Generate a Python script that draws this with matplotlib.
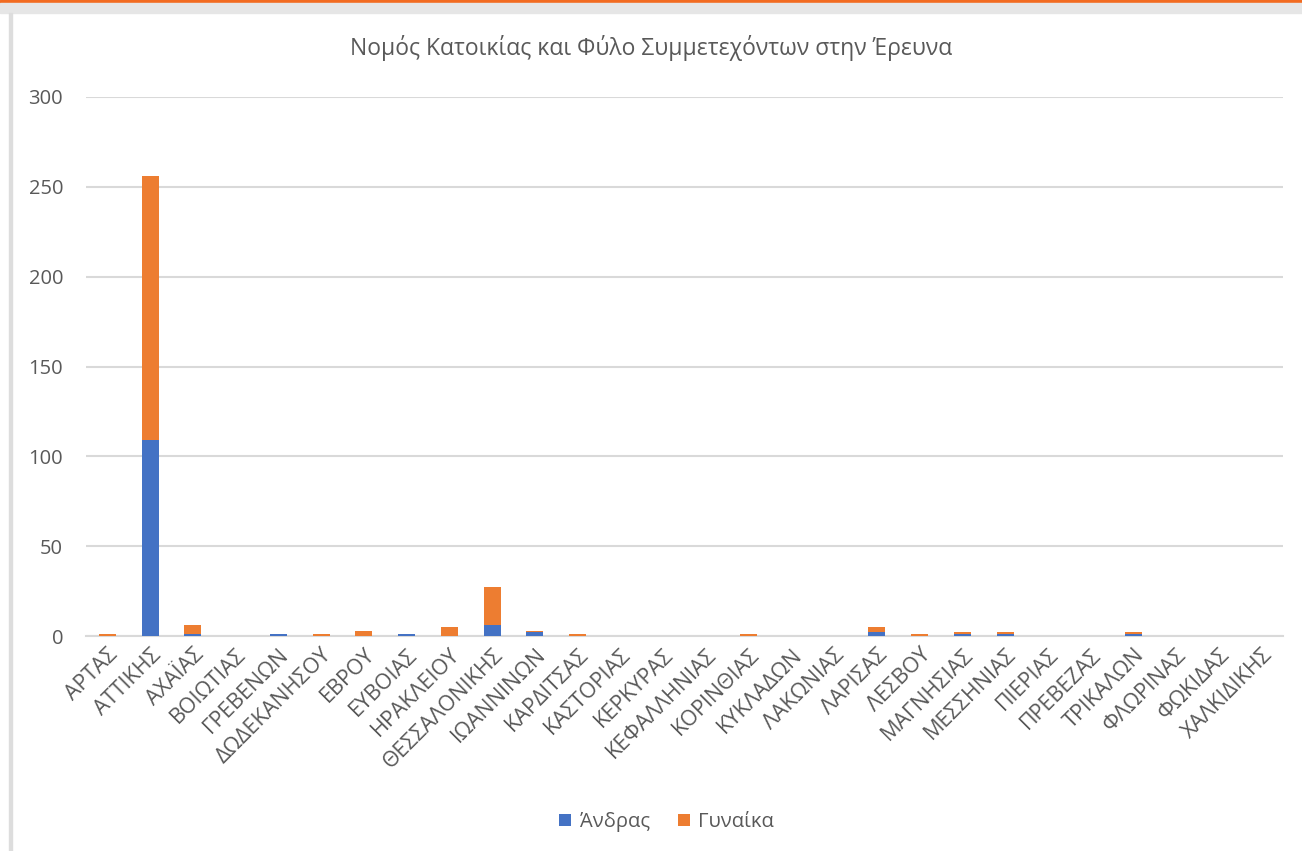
import matplotlib
matplotlib.use("Agg")
import matplotlib.pyplot as plt
import matplotlib.patches as patches
import numpy as np

plt.rcParams['font.family'] = ['Open Sans', 'DejaVu Sans']

nomoi = ['ΑΡΤΑΣ', 'ΑΤΤΙΚΗΣ', 'ΑΧΑΪΑΣ', 'ΒΟΙΩΤΙΑΣ', 'ΓΡΕΒΕΝΩΝ', 'ΔΩΔΕΚΑΝΗΣΟΥ', 'ΕΒΡΟΥ',
         'ΕΥΒΟΙΑΣ', 'ΗΡΑΚΛΕΙΟΥ', 'ΘΕΣΣΑΛΟΝΙΚΗΣ', 'ΙΩΑΝΝΙΝΩΝ', 'ΚΑΡΔΙΤΣΑΣ', 'ΚΑΣΤΟΡΙΑΣ',
         'ΚΕΡΚΥΡΑΣ', 'ΚΕΦΑΛΛΗΝΙΑΣ', 'ΚΟΡΙΝΘΙΑΣ', 'ΚΥΚΛΑΔΩΝ', 'ΛΑΚΩΝΙΑΣ', 'ΛΑΡΙΣΑΣ', 'ΛΕΣΒΟΥ',
         'ΜΑΓΝΗΣΙΑΣ', 'ΜΕΣΣΗΝΙΑΣ', 'ΠΙΕΡΙΑΣ', 'ΠΡΕΒΕΖΑΣ', 'ΤΡΙΚΑΛΩΝ', 'ΦΛΩΡΙΝΑΣ', 'ΦΩΚΙΔΑΣ',
         'ΧΑΛΚΙΔΙΚΗΣ']
andras = [0, 109, 1, 0, 1, 0, 0, 1, 0, 6, 2, 0, 0, 0, 0, 0, 0, 0, 2, 0, 1, 1, 0, 0, 1, 0, 0, 0]
gynaika = [1, 147, 5, 0, 0, 1, 3, 0, 5, 21, 1, 1, 0, 0, 0, 1, 0, 0, 3, 1, 1, 1, 0, 0, 1, 0, 0, 0]

grey = '#595959'
fig = plt.figure(figsize=(13.02, 8.51), dpi=100)

# window frame bits around the chart
fig.patches.append(patches.Rectangle((0, 1 - 3/851), 1, 3/851, transform=fig.transFigure,
                                     color='#F26B21', zorder=0))
fig.patches.append(patches.Rectangle((0, 1 - 13/851), 1, 10/851, transform=fig.transFigure,
                                     color='#E6E6E6', zorder=0))
fig.patches.append(patches.Rectangle((9/1302, 0), 3/1302, 1 - 13/851, transform=fig.transFigure,
                                     color='#DDDDDD', zorder=0))

ax = fig.add_axes([86/1302, 1 - 636/851, 1197/1302, 539/851])
x = np.arange(len(nomoi))
ax.bar(x, andras, width=0.4, color='#4472C4', label='Άνδρας', zorder=3)
ax.bar(x, gynaika, width=0.4, bottom=andras, color='#ED7D31', label='Γυναίκα', zorder=3)

ax.set_xlim(-0.5, len(nomoi) - 0.5)
ax.set_ylim(0, 300)
ax.set_yticks(range(0, 301, 50))
ax.grid(axis='y', color='#D9D9D9', linewidth=1.5, zorder=0)
for s in ['top', 'right', 'left']:
    ax.spines[s].set_visible(False)
ax.spines['bottom'].set_color('#D9D9D9')
ax.spines['bottom'].set_linewidth(1.5)
ax.tick_params(length=0, colors=grey, labelsize=14.5)
ax.tick_params(axis='y', pad=16.5)
ax.tick_params(axis='x', pad=6)
ax.set_xticks(x)
ax.set_xticklabels(nomoi, rotation=45, ha='right', rotation_mode='anchor', fontsize=15.5)

fig.text(0.5, 1 - 48/851, 'Νομός Κατοικίας και Φύλο Συμμετεχόντων στην Έρευνα',
         ha='center', va='center', fontsize=16.5, color=grey)
fig.legend(loc='center', bbox_to_anchor=(0.512, 1 - 822/851), ncol=2, frameon=False,
           fontsize=14.5, labelcolor=grey, handlelength=0.6, handleheight=0.6,
           handletextpad=0.4, columnspacing=1.4)

fig.savefig('out.png', dpi=100, facecolor='white')
